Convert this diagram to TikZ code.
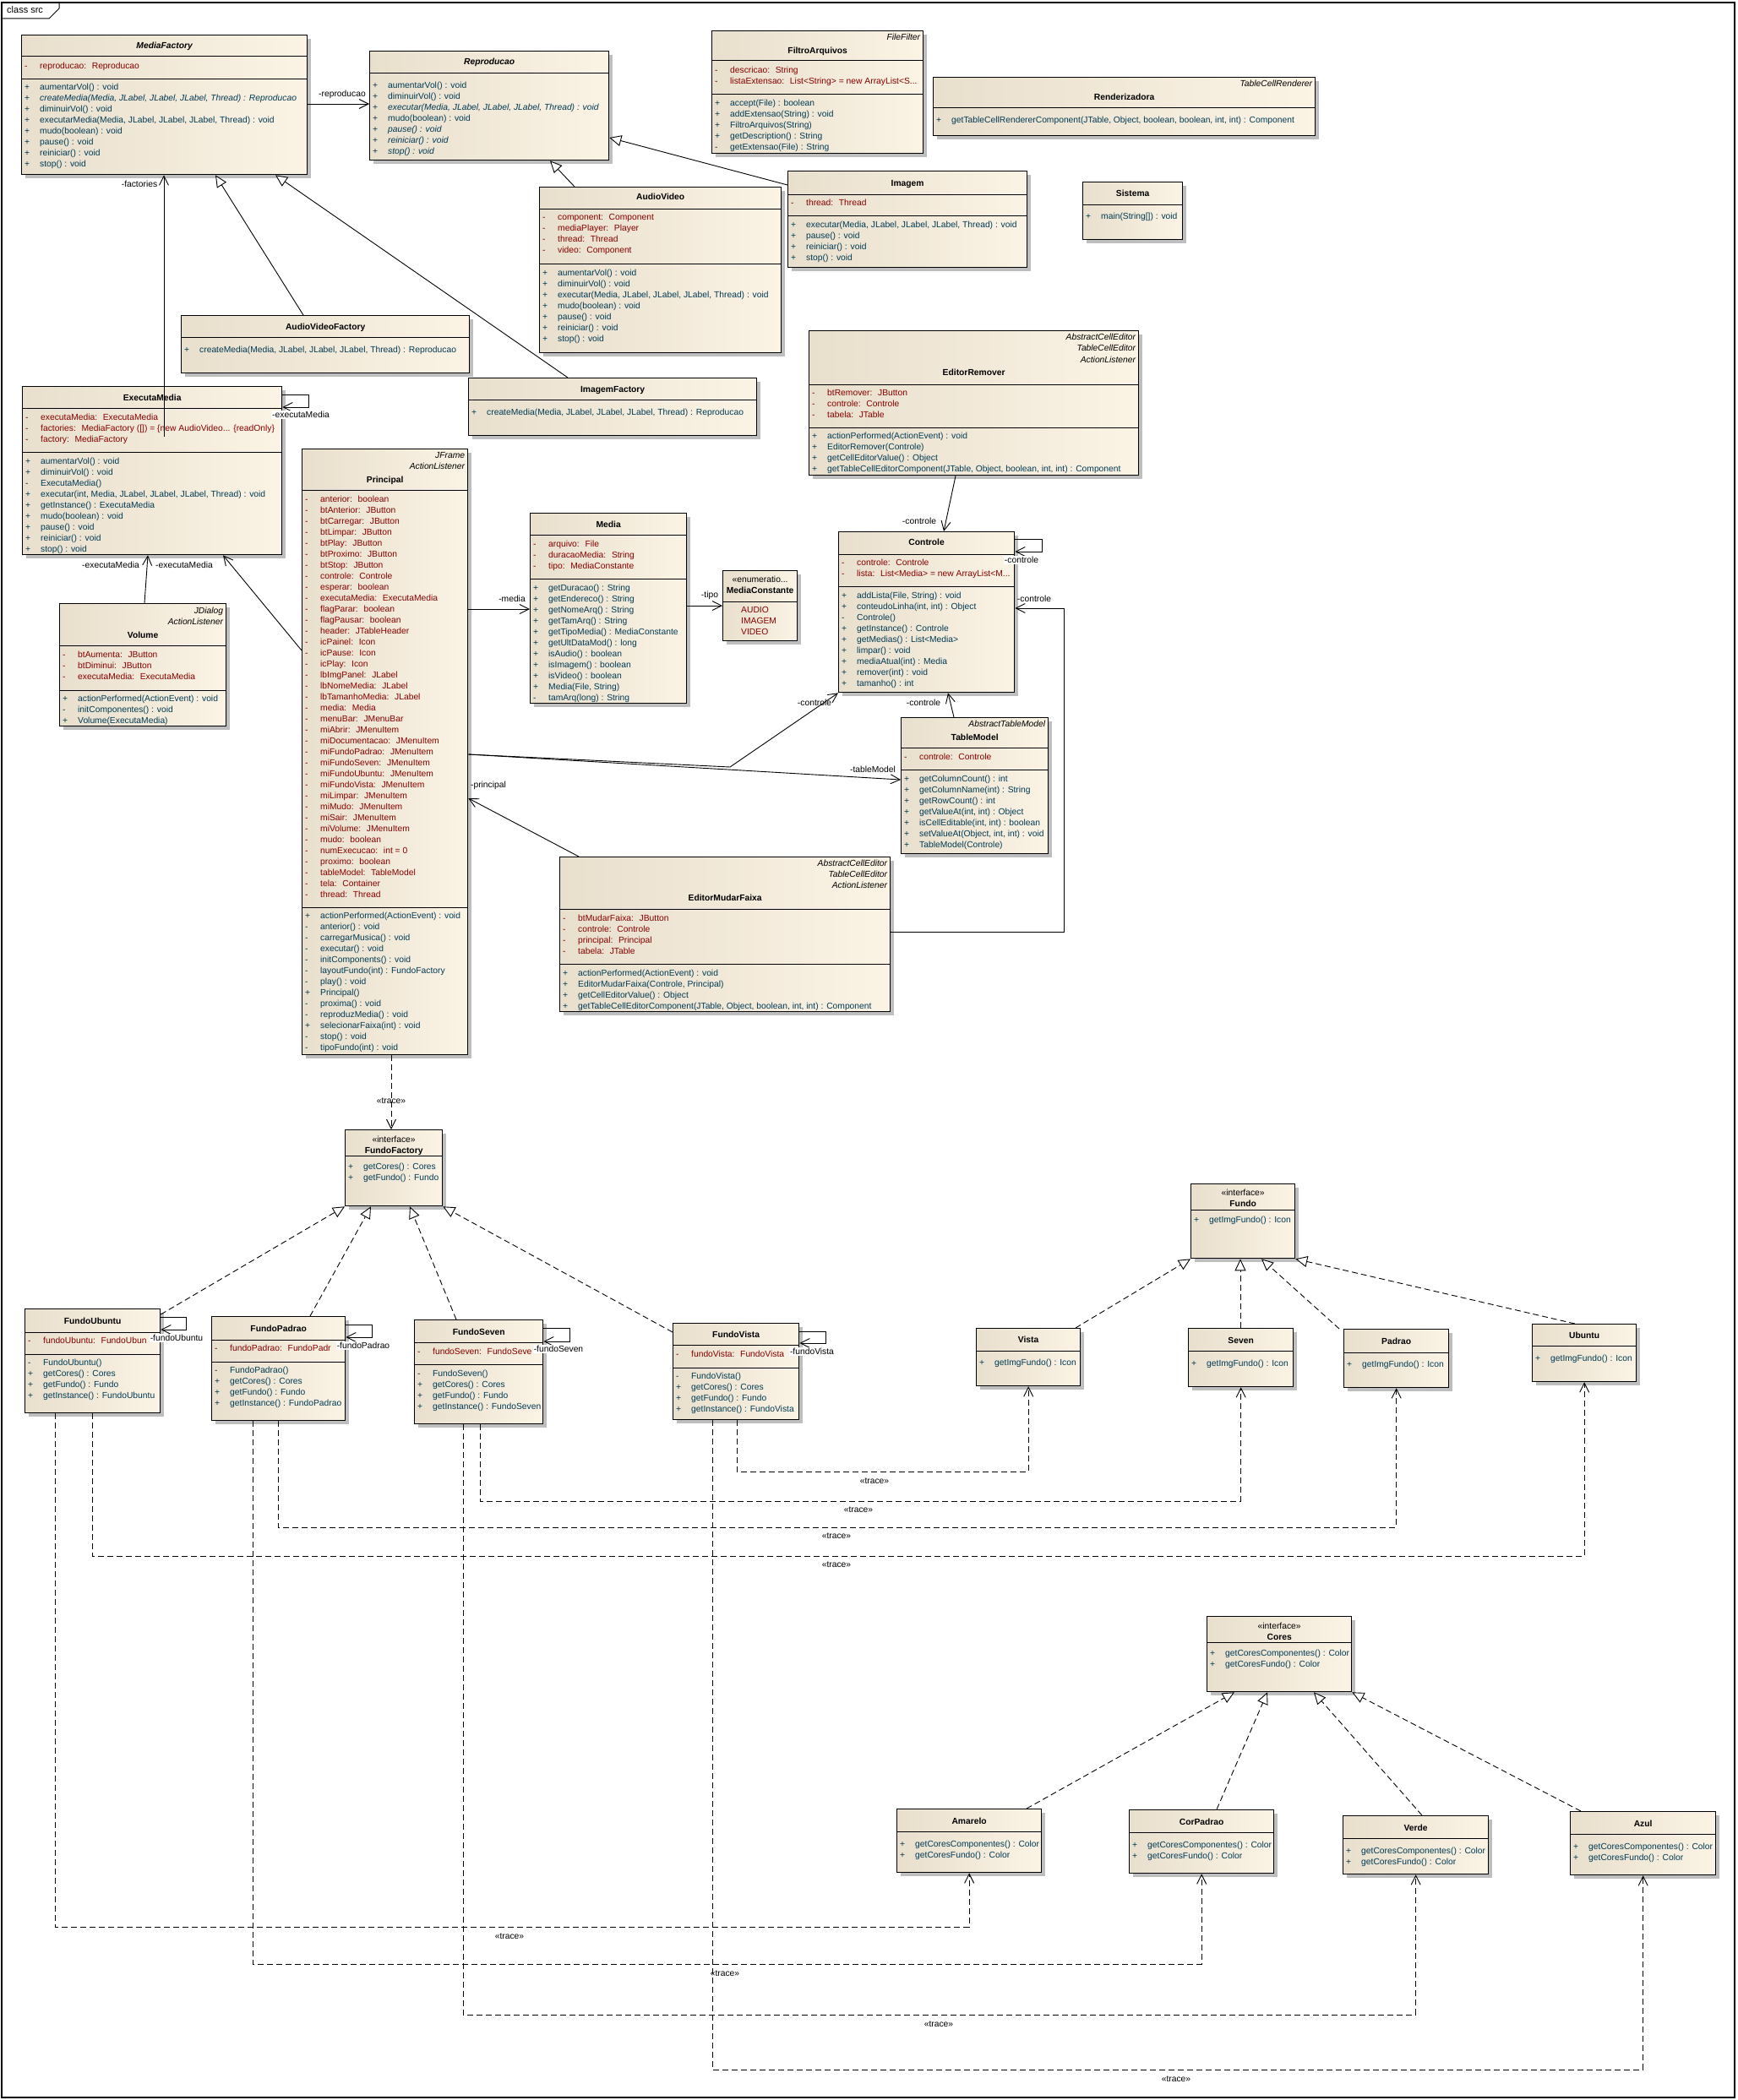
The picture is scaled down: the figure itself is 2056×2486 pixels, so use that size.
\documentclass[tikz,border=0pt]{standalone}
\usepackage{fontspec}
\setmainfont{Liberation Sans}
\usetikzlibrary{arrows.meta,shadows,calc}

\definecolor{umlleft}{RGB}{232,223,205}
\definecolor{umlright}{RGB}{251,243,228}
\definecolor{umlattr}{RGB}{134,0,0}
\definecolor{umlop}{RGB}{0,58,84}
\definecolor{umlshadow}{RGB}{190,190,190}

\tikzset{
  umlbox/.style={draw, line width=1.3pt, anchor=north west, inner sep=0pt,
    left color=umlleft, right color=umlright,
    drop shadow={shadow xshift=4pt, shadow yshift=-4pt, fill=umlshadow, opacity=1}},
  umlline/.style={line width=1pt},
  umltext/.style={font=\fontsize{10.3}{13}\selectfont, inner sep=0pt},
  umlhead/.style={umltext, font=\fontsize{10.3}{13}\selectfont\bfseries, anchor=mid},
  umlstereo/.style={umltext, font=\fontsize{10.3}{13}\selectfont\itshape, anchor=mid east, xshift=-4pt},
  umlrows/.style={umltext, anchor=north west, xshift=4pt},
  assoc/.style={line width=0.9pt, -{Straight Barb[length=11pt,width=11pt]}},
  inherit/.style={line width=0.9pt, -{Triangle[length=14pt,width=13pt,fill=white]}},
  realize/.style={inherit, dash pattern=on 7pt off 4pt},
  trace/.style={assoc, dash pattern=on 7pt off 4pt},
  role/.style={umltext, inner sep=1pt},
  rolebg/.style={role, fill=white},
}

% class box: id, x1, y1, x2, y2
\NewDocumentCommand{\umlclass}{mmmmm}{%
\node[umlbox, minimum width={(#4-#2)*1pt}, minimum height={(#5-#3)*1pt}] (#1) at (#2,#3) {};%
}
\NewDocumentCommand{\umlsep}{mm}{%
\draw[umlline] (#1.west |- 0,#2) -- (#1.east |- 0,#2);%
}
\NewDocumentCommand{\umlname}{mmO{}m}{%
\node[umlhead] (#1-#2) at (#1.north |- 0,#2) {#3#4};%
}
\NewDocumentCommand{\umlstereo}{mmm}{%
\node[umlstereo] (#1-#2) at (#1.east |- 0,#2) {#3};%
}
\NewDocumentCommand{\umlrows}{mmmm}{%
\node[umlrows, text=#3] (#1-#2) at (#1.west |- 0,#2-5.6) {\begin{tabular}{@{}p{18pt}@{}l@{}}#4\end{tabular}};%
}

\begin{document}
\begin{tikzpicture}[x=1pt, y=-1pt]
        \useasboundingbox (0,0) rectangle (2056,2486);

        % Frame.
        \draw[line width=1.2pt] (2,3) rectangle (2053,2483);
        \draw[line width=1pt] (2,22) -- (58,22) -- (70,10) -- (70,3);
        \node[umltext, font=\fontsize{11}{13}\selectfont, anchor=mid west] (framelbl) at (8,13) {class src};

        % Media factories.
        \umlclass{mf}{25}{41}{363}{206}
        \umlname{mf}{55}[\itshape]{MediaFactory}
        \umlsep{mf}{67}
        \umlrows{mf}{78}{umlattr}{- & reproducao:~ Reproducao}
        \umlsep{mf}{94}
        \umlrows{mf}{103}{umlop}{+ & aumentarVol() : void\\
          + & \textit{createMedia(Media, JLabel, JLabel, JLabel, Thread) : Reproducao}\\
          + & diminuirVol() : void\\
          + & executarMedia(Media, JLabel, JLabel, JLabel, Thread) : void\\
          + & mudo(boolean) : void\\
          + & pause() : void\\
          + & reiniciar() : void\\
          + & stop() : void}

        \umlclass{rep}{437}{60}{720}{189}
        \umlname{rep}{74}[\itshape]{Reproducao}
        \umlsep{rep}{87}
        \umlrows{rep}{101}{umlop}{+ & aumentarVol() : void\\
          + & diminuirVol() : void\\
          + & \textit{executar(Media, JLabel, JLabel, JLabel, Thread) : void}\\
          + & mudo(boolean) : void\\
          + & \textit{pause() : void}\\
          + & \textit{reiniciar() : void}\\
          + & \textit{stop() : void}}

        \umlclass{fa}{842}{36}{1092}{181}
        \umlstereo{fa}{45}{FileFilter}
        \umlname{fa}{61}{FiltroArquivos}
        \umlsep{fa}{72}
        \umlrows{fa}{83}{umlattr}{- & descricao:~ String\\
          - & listaExtensao:~ List<String> = new ArrayList<S...}
        \umlsep{fa}{112}
        \umlrows{fa}{122}{umlop}{+ & accept(File) : boolean\\
          + & addExtensao(String) : void\\
          + & FiltroArquivos(String)\\
          + & getDescription() : String\\
          - & getExtensao(File) : String}

        \umlclass{rend}{1104}{91}{1556}{160}
        \umlstereo{rend}{100}{TableCellRenderer}
        \umlname{rend}{116}{Renderizadora}
        \umlsep{rend}{128}
        \umlrows{rend}{142}{umlop}{+ & getTableCellRendererComponent(JTable, Object, boolean, boolean, int, int) : Component}

        \umlclass{img}{932}{202}{1215}{316}
        \umlname{img}{218}{Imagem}
        \umlsep{img}{230}
        \umlrows{img}{240}{umlattr}{- & thread:~ Thread}
        \umlsep{img}{255}
        \umlrows{img}{266}{umlop}{+ & executar(Media, JLabel, JLabel, JLabel, Thread) : void\\
          + & pause() : void\\
          + & reiniciar() : void\\
          + & stop() : void}

        \umlclass{sis}{1281}{215}{1399}{283}
        \umlname{sis}{230}{Sistema}
        \umlsep{sis}{242}
        \umlrows{sis}{256}{umlop}{+ & main(String[]) : void}

        \umlclass{av}{638}{221}{924}{417}
        \umlname{av}{234}{AudioVideo}
        \umlsep{av}{247}
        \umlrows{av}{257}{umlattr}{- & component:~ Component\\
          - & mediaPlayer:~ Player\\
          - & thread:~ Thread\\
          - & video:~ Component}
        \umlsep{av}{312}
        \umlrows{av}{323}{umlop}{+ & aumentarVol() : void\\
          + & diminuirVol() : void\\
          + & executar(Media, JLabel, JLabel, JLabel, Thread) : void\\
          + & mudo(boolean) : void\\
          + & pause() : void\\
          + & reiniciar() : void\\
          + & stop() : void}

        \umlclass{avf}{214}{373}{555}{441}
        \umlname{avf}{388}{AudioVideoFactory}
        \umlsep{avf}{399}
        \umlrows{avf}{414}{umlop}{+ & createMedia(Media, JLabel, JLabel, JLabel, Thread) : Reproducao}

        \umlclass{imf}{554}{447}{895}{515}
        \umlname{imf}{462}{ImagemFactory}
        \umlsep{imf}{473}
        \umlrows{imf}{488}{umlop}{+ & createMedia(Media, JLabel, JLabel, JLabel, Thread) : Reproducao}

        % Player.
        \umlclass{em}{26}{457}{333}{656}
        \umlname{em}{472}{ExecutaMedia}
        \umlsep{em}{483}
        \umlrows{em}{494}{umlattr}{- & executaMedia:~ ExecutaMedia\\
          - & factories:~ MediaFactory ([]) = \{new AudioVideo... \{readOnly\}\\
          - & factory:~ MediaFactory}
        \umlsep{em}{535}
        \umlrows{em}{546}{umlop}{+ & aumentarVol() : void\\
          + & diminuirVol() : void\\
          - & ExecutaMedia()\\
          + & executar(int, Media, JLabel, JLabel, JLabel, Thread) : void\\
          + & getInstance() : ExecutaMedia\\
          + & mudo(boolean) : void\\
          + & pause() : void\\
          + & reiniciar() : void\\
          + & stop() : void}

        \umlclass{pr}{357}{531}{553}{1248}
        \umlstereo{pr}{540}{JFrame}
        \umlstereo{pr}{553}{ActionListener}
        \umlname{pr}{569}{Principal}
        \umlsep{pr}{580}
        \umlrows{pr}{591}{umlattr}{- & anterior:~ boolean\\
          - & btAnterior:~ JButton\\
          - & btCarregar:~ JButton\\
          - & btLimpar:~ JButton\\
          - & btPlay:~ JButton\\
          - & btProximo:~ JButton\\
          - & btStop:~ JButton\\
          - & controle:~ Controle\\
          - & esperar:~ boolean\\
          - & executaMedia:~ ExecutaMedia\\
          - & flagParar:~ boolean\\
          - & flagPausar:~ boolean\\
          - & header:~ JTableHeader\\
          - & icPainel:~ Icon\\
          - & icPause:~ Icon\\
          - & icPlay:~ Icon\\
          - & lbImgPanel:~ JLabel\\
          - & lbNomeMedia:~ JLabel\\
          - & lbTamanhoMedia:~ JLabel\\
          - & media:~ Media\\
          - & menuBar:~ JMenuBar\\
          - & miAbrir:~ JMenuItem\\
          - & miDocumentacao:~ JMenuItem\\
          - & miFundoPadrao:~ JMenuItem\\
          - & miFundoSeven:~ JMenuItem\\
          - & miFundoUbuntu:~ JMenuItem\\
          - & miFundoVista:~ JMenuItem\\
          - & miLimpar:~ JMenuItem\\
          - & miMudo:~ JMenuItem\\
          - & miSair:~ JMenuItem\\
          - & miVolume:~ JMenuItem\\
          - & mudo:~ boolean\\
          - & numExecucao:~ int = 0\\
          - & proximo:~ boolean\\
          - & tableModel:~ TableModel\\
          - & tela:~ Container\\
          - & thread:~ Thread}
        \umlsep{pr}{1074}
        \umlrows{pr}{1084}{umlop}{+ & actionPerformed(ActionEvent) : void\\
          - & anterior() : void\\
          - & carregarMusica() : void\\
          - & executar() : void\\
          - & initComponents() : void\\
          - & layoutFundo(int) : FundoFactory\\
          - & play() : void\\
          + & Principal()\\
          - & proxima() : void\\
          - & reproduzMedia() : void\\
          + & selecionarFaixa(int) : void\\
          - & stop() : void\\
          - & tipoFundo(int) : void}

        \umlclass{vol}{70}{714}{267}{859}
        \umlstereo{vol}{724}{JDialog}
        \umlstereo{vol}{737}{ActionListener}
        \umlname{vol}{753}{Volume}
        \umlsep{vol}{764}
        \umlrows{vol}{775}{umlattr}{- & btAumenta:~ JButton\\
          - & btDiminui:~ JButton\\
          - & executaMedia:~ ExecutaMedia}
        \umlsep{vol}{817}
        \umlrows{vol}{827}{umlop}{+ & actionPerformed(ActionEvent) : void\\
          - & initComponentes() : void\\
          + & Volume(ExecutaMedia)}

        \umlclass{med}{627}{607}{812}{832}
        \umlname{med}{622}{Media}
        \umlsep{med}{633}
        \umlrows{med}{644}{umlattr}{- & arquivo:~ File\\
          - & duracaoMedia:~ String\\
          - & tipo:~ MediaConstante}
        \umlsep{med}{685}
        \umlrows{med}{696}{umlop}{+ & getDuracao() : String\\
          + & getEndereco() : String\\
          + & getNomeArq() : String\\
          + & getTamArq() : String\\
          + & getTipoMedia() : MediaConstante\\
          + & getUltDataMod() : long\\
          + & isAudio() : boolean\\
          + & isImagem() : boolean\\
          + & isVideo() : boolean\\
          + & Media(File, String)\\
          - & tamArq(long) : String}

        \umlclass{mc}{855}{675}{943}{758}
        \umlname{mc}{687}[\mdseries]{«enumeratio...}
        \umlname{mc}{700}{MediaConstante}
        \umlsep{mc}{712}
        \umlrows{mc}{722}{umlattr}{ & AUDIO\\
           & IMAGEM\\
           & VIDEO}

        % Playlist.
        \umlclass{er}{957}{391}{1347}{562}
        \umlstereo{er}{400}{AbstractCellEditor}
        \umlstereo{er}{413}{TableCellEditor}
        \umlstereo{er}{427}{ActionListener}
        \umlname{er}{442}{EditorRemover}
        \umlsep{er}{455}
        \umlrows{er}{465}{umlattr}{- & btRemover:~ JButton\\
          - & controle:~ Controle\\
          - & tabela:~ JTable}
        \umlsep{er}{506}
        \umlrows{er}{516}{umlop}{+ & actionPerformed(ActionEvent) : void\\
          + & EditorRemover(Controle)\\
          + & getCellEditorValue() : Object\\
          + & getTableCellEditorComponent(JTable, Object, boolean, int, int) : Component}

        \umlclass{ctl}{992}{629}{1200}{819}
        \umlname{ctl}{643}{Controle}
        \umlsep{ctl}{656}
        \umlrows{ctl}{666}{umlattr}{- & controle:~ Controle\\
          - & lista:~ List<Media> = new ArrayList<M...}
        \umlsep{ctl}{694}
        \umlrows{ctl}{705}{umlop}{+ & addLista(File, String) : void\\
          + & conteudoLinha(int, int) : Object\\
          - & Controle()\\
          + & getInstance() : Controle\\
          + & getMedias() : List<Media>\\
          + & limpar() : void\\
          + & mediaAtual(int) : Media\\
          + & remover(int) : void\\
          + & tamanho() : int}

        \umlclass{tm}{1066}{849}{1240}{1010}
        \umlstereo{tm}{858}{AbstractTableModel}
        \umlname{tm}{874}{TableModel}
        \umlsep{tm}{885}
        \umlrows{tm}{896}{umlattr}{- & controle:~ Controle}
        \umlsep{tm}{911}
        \umlrows{tm}{922}{umlop}{+ & getColumnCount() : int\\
          + & getColumnName(int) : String\\
          + & getRowCount() : int\\
          + & getValueAt(int, int) : Object\\
          + & isCellEditable(int, int) : boolean\\
          + & setValueAt(Object, int, int) : void\\
          + & TableModel(Controle)}

        \umlclass{emf}{662}{1014}{1053}{1197}
        \umlstereo{emf}{1023}{AbstractCellEditor}
        \umlstereo{emf}{1036}{TableCellEditor}
        \umlstereo{emf}{1049}{ActionListener}
        \umlname{emf}{1064}{EditorMudarFaixa}
        \umlsep{emf}{1076}
        \umlrows{emf}{1087}{umlattr}{- & btMudarFaixa:~ JButton\\
          - & controle:~ Controle\\
          - & principal:~ Principal\\
          - & tabela:~ JTable}
        \umlsep{emf}{1141}
        \umlrows{emf}{1152}{umlop}{+ & actionPerformed(ActionEvent) : void\\
          + & EditorMudarFaixa(Controle, Principal)\\
          + & getCellEditorValue() : Object\\
          + & getTableCellEditorComponent(JTable, Object, boolean, int, int) : Component}

        % Backgrounds.
        \umlclass{ff}{408}{1337}{523}{1427}
        \umlname{ff}{1350}[\mdseries]{«interface»}
        \umlname{ff}{1363}{FundoFactory}
        \umlsep{ff}{1368}
        \umlrows{ff}{1381}{umlop}{+ & getCores() : Cores\\
          + & getFundo() : Fundo}

        \umlclass{fu}{29}{1549}{189}{1672}
        \umlname{fu}{1565}{FundoUbuntu}
        \umlsep{fu}{1577}
        \umlrows{fu}{1587}{umlattr}{- & fundoUbuntu:~ FundoUbun}
        \umlsep{fu}{1603}
        \umlrows{fu}{1613}{umlop}{- & FundoUbuntu()\\
          + & getCores() : Cores\\
          + & getFundo() : Fundo\\
          + & getInstance() : FundoUbuntu}

        \umlclass{fp}{250}{1558}{408}{1681}
        \umlname{fp}{1574}{FundoPadrao}
        \umlsep{fp}{1586}
        \umlrows{fp}{1596}{umlattr}{- & fundoPadrao:~ FundoPadr}
        \umlsep{fp}{1612}
        \umlrows{fp}{1622}{umlop}{- & FundoPadrao()\\
          + & getCores() : Cores\\
          + & getFundo() : Fundo\\
          + & getInstance() : FundoPadrao}

        \umlclass{fs}{490}{1562}{642}{1685}
        \umlname{fs}{1578}{FundoSeven}
        \umlsep{fs}{1589}
        \umlrows{fs}{1600}{umlattr}{- & fundoSeven:~ FundoSeve}
        \umlsep{fs}{1615}
        \umlrows{fs}{1626}{umlop}{- & FundoSeven()\\
          + & getCores() : Cores\\
          + & getFundo() : Fundo\\
          + & getInstance() : FundoSeven}

        \umlclass{fv}{796}{1566}{945}{1680}
        \umlname{fv}{1581}{FundoVista}
        \umlsep{fv}{1592}
        \umlrows{fv}{1603}{umlattr}{- & fundoVista:~ FundoVista}
        \umlsep{fv}{1619}
        \umlrows{fv}{1629}{umlop}{- & FundoVista()\\
          + & getCores() : Cores\\
          + & getFundo() : Fundo\\
          + & getInstance() : FundoVista}

        \umlclass{fun}{1409}{1401}{1532}{1489}
        \umlname{fun}{1413}[\mdseries]{«interface»}
        \umlname{fun}{1426}{Fundo}
        \umlsep{fun}{1432}
        \umlrows{fun}{1444}{umlop}{+ & getImgFundo() : Icon}

        \umlclass{vis}{1155}{1572}{1278}{1640}
        \umlname{vis}{1587}{Vista}
        \umlsep{vis}{1599}
        \umlrows{vis}{1613}{umlop}{+ & getImgFundo() : Icon}

        \umlclass{sev}{1406}{1572}{1530}{1641}
        \umlname{sev}{1588}{Seven}
        \umlsep{sev}{1599}
        \umlrows{sev}{1614}{umlop}{+ & getImgFundo() : Icon}

        \umlclass{pad}{1590}{1573}{1714}{1642}
        \umlname{pad}{1589}{Padrao}
        \umlsep{pad}{1601}
        \umlrows{pad}{1615}{umlop}{+ & getImgFundo() : Icon}

        \umlclass{ubu}{1813}{1567}{1936}{1635}
        \umlname{ubu}{1582}{Ubuntu}
        \umlsep{ubu}{1593}
        \umlrows{ubu}{1608}{umlop}{+ & getImgFundo() : Icon}

        % Colours.
        \umlclass{cor}{1428}{1913}{1599}{2002}
        \umlname{cor}{1926}[\mdseries]{«interface»}
        \umlname{cor}{1939}{Cores}
        \umlsep{cor}{1944}
        \umlrows{cor}{1957}{umlop}{+ & getCoresComponentes() : Color\\
          + & getCoresFundo() : Color}

        \umlclass{ama}{1061}{2141}{1232}{2216}
        \umlname{ama}{2157}{Amarelo}
        \umlsep{ama}{2168}
        \umlrows{ama}{2183}{umlop}{+ & getCoresComponentes() : Color\\
          + & getCoresFundo() : Color}

        \umlclass{cpd}{1336}{2142}{1507}{2217}
        \umlname{cpd}{2158}{CorPadrao}
        \umlsep{cpd}{2169}
        \umlrows{cpd}{2184}{umlop}{+ & getCoresComponentes() : Color\\
          + & getCoresFundo() : Color}

        \umlclass{ver}{1589}{2149}{1761}{2218}
        \umlname{ver}{2165}{Verde}
        \umlsep{ver}{2176}
        \umlrows{ver}{2191}{umlop}{+ & getCoresComponentes() : Color\\
          + & getCoresFundo() : Color}

        \umlclass{azu}{1858}{2144}{2030}{2219}
        \umlname{azu}{2160}{Azul}
        \umlsep{azu}{2171}
        \umlrows{azu}{2186}{umlop}{+ & getCoresComponentes() : Color\\
          + & getCoresFundo() : Color}

        % Associations.
        \draw[assoc] (mf.east |- 0,123) -- (rep.west |- 0,123);
        \draw[assoc] ($(em.north -| 194,0)+(0,60)$) -- (mf.south -| 194,0);
        \draw[assoc] (em.east |- 0,467) -- ++(31,0) -- ++(0,15) -- (em.east |- 0,482);
        \draw[assoc] (vol.north -| 171,0) -- (em.south -| 175,0);
        \draw[assoc] (pr.west |- 0,770) -- (em.south -| 264,0);
        \draw[assoc] (pr.east |- 0,721) -- (med.west |- 0,721);
        \draw[assoc] (med.east |- 0,717) -- (mc.west |- 0,717);
        \draw[assoc] (er.south -| 1131,0) -- (ctl.north -| 1117,0);
        \draw[assoc] (ctl.east |- 0,638) -- ++(32,0) -- ++(0,15) -- (ctl.east |- 0,653);
        \draw[assoc] (emf.east |- 0,1103) -- ++(205,0) |- (ctl.east |- 0,720);
        \draw[assoc] (tm.north -| 1129,0) -- (ctl.south -| 1122,0);
        \draw[assoc] (pr.east |- 0,893) -- (864,908) -- (ctl.south west);
        \draw[assoc] (pr.east |- 0,893) -- (tm.west |- 0,923);
        \draw[assoc] (emf.north -| 685,0) -- (pr.east |- 0,945);
        \draw[assoc] (fu.east |- 0,1559) -- ++(30,0) -- ++(0,15) -- (fu.east |- 0,1574);
        \draw[assoc] (fp.east |- 0,1568) -- ++(31,0) -- ++(0,15) -- (fp.east |- 0,1583);
        \draw[assoc] (fs.east |- 0,1572) -- ++(31,0) -- ++(0,16) -- (fs.east |- 0,1588);
        \draw[assoc] (fv.east |- 0,1576) -- ++(31,0) -- ++(0,14) -- (fv.east |- 0,1590);

        \node[role] (lreproducao) at (405,112) {-reproducao};
        \node[role] (lfactories) at (165,218) {-factories};
        \node[rolebg] (lexecloop) at (356,491) {-executaMedia};
        \node[role] (lexecvol) at (131,669) {-executaMedia};
        \node[role] (lexecpr) at (218,669) {-executaMedia};
        \node[role] (lmedia) at (606,709) {-media};
        \node[role] (ltipo) at (840,705) {-tipo};
        \node[role] (lctler) at (1088,617) {-controle};
        \node[rolebg] (lctlloop) at (1209,663) {-controle};
        \node[role] (lctlemf) at (1224,709) {-controle};
        \node[role] (lctltm) at (1093,832) {-controle};
        \node[role] (lctlpr) at (964,832) {-controle};
        \node[role] (ltable) at (1033,911) {-tableModel};
        \node[role] (lprincipal) at (578,930) {-principal};
        \node[rolebg] (lfu) at (209,1584) {-fundoUbuntu};
        \node[rolebg] (lfp) at (430,1593) {-fundoPadrao};
        \node[rolebg] (lfs) at (661,1597) {-fundoSeven};
        \node[rolebg] (lfv) at (961,1600) {-fundoVista};

        % Generalizations.
        \draw[inherit] (avf.north -| 359,0) -- (mf.south -| 255,0);
        \draw[inherit] (imf.north -| 672,0) -- (mf.south -| 326,0);
        \draw[inherit] (av.north -| 680,0) -- (rep.south -| 651,0);
        \draw[inherit] (img.west |- 0,219) -- (rep.east |- 0,163);

        % Realizations.
        \draw[realize] (fu.east |- 0,1556) -- (ff.south west);
        \draw[realize] (fp.north -| 367,0) -- (ff.south -| 439,0);
        \draw[realize] (fs.north -| 540,0) -- (ff.south -| 485,0);
        \draw[realize] (fv.west |- 0,1577) -- (ff.south east);
        \draw[realize] (vis.north -| 1273,0) -- (fun.south west);
        \draw[realize] (sev.north -| 1468,0) -- (fun.south -| 1468,0);
        \draw[realize] (pad.north -| 1585,0) -- (fun.south -| 1493,0);
        \draw[realize] (ubu.north -| 1864,0) -- (fun.south east);
        \draw[realize] (ama.north -| 1215,0) -- (cor.south -| 1461,0);
        \draw[realize] (cpd.north -| 1440,0) -- (cor.south -| 1500,0);
        \draw[realize] (ver.north -| 1683,0) -- (cor.south -| 1555,0);
        \draw[realize] (azu.north -| 1871,0) -- (cor.south east);

        % Traces.
        \draw[trace] (pr.south -| 463,0) -- (ff.north -| 463,0);
        \draw[trace] (fv.south -| 872,0) |- (vis.south |- 0,1742) -- (vis.south);
        \draw[trace] (fs.south -| 568,0) |- (sev.south |- 0,1777) -- (sev.south);
        \draw[trace] (fp.south -| 329,0) |- (pad.south |- 0,1808) -- (pad.south);
        \draw[trace] (fu.south -| 109,0) |- (ubu.south |- 0,1842) -- (ubu.south);
        \draw[trace] (fu.south -| 65,0) |- (ama.south |- 0,2281) -- (ama.south);
        \draw[trace] (fp.south -| 299,0) |- (cpd.south |- 0,2325) -- (cpd.south);
        \draw[trace] (fs.south -| 548,0) |- (ver.south |- 0,2385) -- (ver.south);
        \draw[trace] (fv.south -| 843,0) |- (azu.south |- 0,2450) -- (azu.south);

        \node[role] (tpr) at (463,1303) {«trace»};
        \node[role] (tvis) at (1035,1753) {«trace»};
        \node[role] (tsev) at (1016,1787) {«trace»};
        \node[role] (tpad) at (990,1818) {«trace»};
        \node[role] (tubu) at (990,1852) {«trace»};
        \node[role] (tama) at (603,2292) {«trace»};
        \node[role] (tcpd) at (858,2336) {«trace»};
        \node[role] (tver) at (1111,2396) {«trace»};
        \node[role] (tazu) at (1392,2461) {«trace»};
\end{tikzpicture}
\end{document}
